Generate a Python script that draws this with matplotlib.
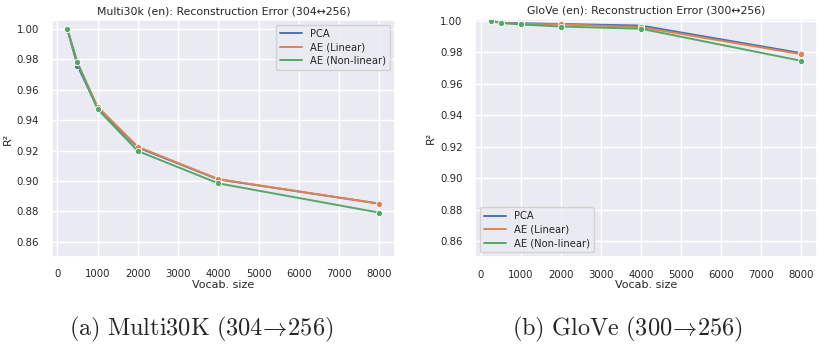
import matplotlib
matplotlib.use("Agg")
import matplotlib.pyplot as plt
from matplotlib.lines import Line2D
import seaborn as sns

sns.set_theme(style="darkgrid")
plt.rcParams['mathtext.fontset'] = 'cm'

vocab = [250, 500, 1000, 2000, 4000, 8000]
methods = ["PCA", "AE (Linear)", "AE (Non-linear)"]

multi_pca = [1.0, 0.976, 0.948, 0.922, 0.901, 0.885]
multi_lin = [1.0, 0.978, 0.949, 0.9225, 0.9012, 0.885]
multi_nonlin = [1.0, 0.978, 0.9473, 0.9197, 0.8984, 0.8791]

glove_pca = [1.0, 0.9988, 0.9985, 0.998, 0.997, 0.9795]
glove_lin = [1.0, 0.9988, 0.998, 0.9978, 0.996, 0.9788]
glove_nonlin = [1.0, 0.9987, 0.9977, 0.9964, 0.995, 0.9746]

colors = sns.color_palette("deep")[:3]

fig = plt.figure(figsize=(8.18, 3.49), dpi=100)
ax1 = fig.add_axes([0.0632, 0.264, 0.4198, 0.679])
ax2 = fig.add_axes([0.5807, 0.263, 0.418, 0.683])


def draw(ax, series, title, legend_loc):
    for vals, name, c in zip(series, methods, colors):
        ax.plot(vocab, vals, color=c, lw=1.4, marker='o', ms=4.5,
                markeredgecolor='white', markeredgewidth=0.6)
    lo = min(min(s) for s in series)
    hi = max(max(s) for s in series)
    ax.set_ylim(0.85, hi + 0.05 * (hi - lo))
    ax.set_xticks(range(0, 8001, 1000))
    ax.set_yticks([0.86, 0.88, 0.90, 0.92, 0.94, 0.96, 0.98, 1.00])
    ax.set_yticklabels(["0.86", "0.88", "0.90", "0.92", "0.94", "0.96", "0.98", "1.00"])
    ax.tick_params(labelsize=7.3, pad=3)
    ax.set_xlabel("Vocab. size", fontsize=8, labelpad=0.5)
    ax.set_ylabel("R²", fontsize=8, labelpad=3)
    ax.set_title(title, fontsize=7.8, pad=4)
    handles = [Line2D([], [], color=c, lw=1.4) for c in colors]
    ax.legend(handles, methods, loc=legend_loc, fontsize=7.2, handlelength=2.2,
              borderpad=0.4, labelspacing=0.35)


draw(ax1, [multi_pca, multi_lin, multi_nonlin],
     "Multi30k (en): Reconstruction Error (304↔256)", "upper right")
draw(ax2, [glove_pca, glove_lin, glove_nonlin],
     "GloVe (en): Reconstruction Error (300↔256)", "lower left")

fig.text(0.246, 0.057, r'$\mathrm{(a)\ Multi30K\ (304}\!\rightarrow\!\mathrm{256)}$',
         ha='center', va='center', fontsize=17.5)
fig.text(0.767, 0.057, r'$\mathrm{(b)\ GloVe\ (300}\!\rightarrow\!\mathrm{256)}$',
         ha='center', va='center', fontsize=17.5)

fig.savefig("out.png", dpi=100, facecolor='white')
